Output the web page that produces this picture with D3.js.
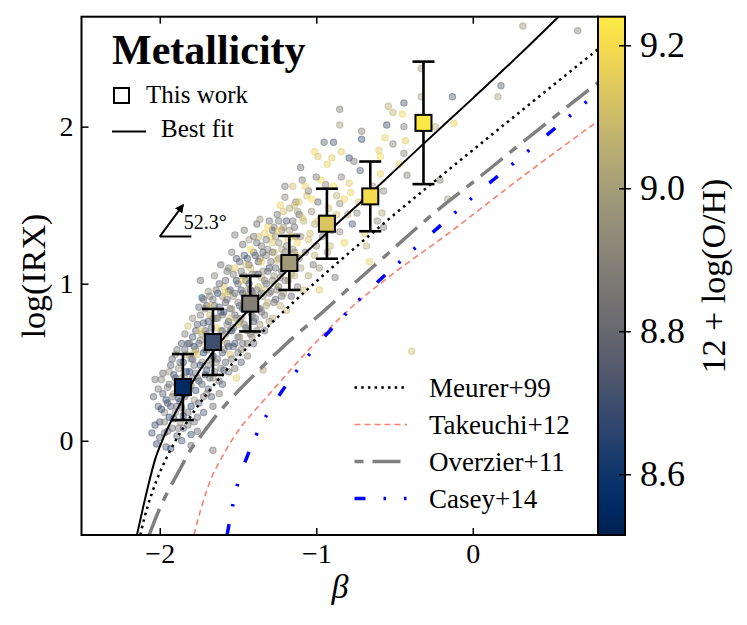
<!DOCTYPE html>
<html>
<head>
<meta charset="utf-8">
<script src="https://cdn.jsdelivr.net/npm/d3@7"></script>
<style>
body { margin: 0; background: #fff; }
svg { display: block; }
text { font-family: "Liberation Serif", "Times New Roman", serif; }
</style>
</head>
<body>
<svg id="chart" width="747" height="625"></svg>
<script>
// ---- data ----
// binned points ("This work")
var binBeta = [-1.852, -1.660, -1.422, -1.172, -0.932, -0.655, -0.315];
var binIRX  = [0.342, 0.629, 0.873, 1.132, 1.382, 1.556, 2.024];
var binErr  = [0.21, 0.21, 0.177, 0.172, 0.223, 0.222, 0.39];
var binOH   = [8.55, 8.70, 8.89, 8.99, 9.13, 9.20, 9.235];

// best fit (solid)
var fitBeta = [-2.146, -2.11, -2.07, -2.03, -1.98, -1.92, -1.85, -1.75, -1.66, -1.54, -1.42, -1.17, -0.93, -0.66, -0.31, 0.0, 0.3, 0.548];
var fitIRX  = [-0.6, -0.44, -0.27, -0.12, 0.01, 0.14, 0.27, 0.44, 0.565, 0.715, 0.845, 1.10, 1.325, 1.57, 1.895, 2.18, 2.46, 2.70];

// literature relations
var meurerBeta = [-2.124, -2.10, -2.075, -2.05, -2.0, -1.95, -1.9, -1.8, -1.7, -1.6, -1.4, -1.2, -1.0, -0.8, -0.6, -0.2, 0.2, 0.8];
var meurerIRX  = [-0.6, -0.498, -0.41, -0.333, -0.203, -0.095, -0.001, 0.159, 0.297, 0.419, 0.636, 0.831, 1.014, 1.188, 1.358, 1.688, 2.012, 2.493];
var takeuchiBeta = [-1.782, -1.73, -1.671, -1.6, -1.522, -1.342, -1.236, -1.066, -0.769, -0.573, -0.143, 0.288, 0.8];
var takeuchiIRX  = [-0.6, -0.41, -0.24, -0.10, 0.03, 0.25, 0.37, 0.56, 0.855, 1.015, 1.33, 1.66, 2.036];
var overzierBeta = [-2.068, -2.0, -1.936, -1.87, -1.811, -1.745, -1.639, -1.5, -1.406, -1.32, -1.15, -0.981, -0.726, -0.578, -0.259, 0.038, 0.336, 0.8];
var overzierIRX  = [-0.6, -0.43, -0.30, -0.18, -0.07, 0.02, 0.16, 0.315, 0.41, 0.495, 0.655, 0.80, 1.03, 1.16, 1.44, 1.675, 1.915, 2.28];
var caseyBeta = [-1.57, -1.533, -1.496, -1.441, -1.389, -1.31, -1.23, -1.151, -1.055, -0.951, -0.86, -0.747, -0.638, -0.418, -0.196, 0.045, 0.272, 0.499, 0.745, 0.8];
var caseyIRX  = [-0.6, -0.408, -0.25, -0.10, 0.024, 0.176, 0.30, 0.41, 0.537, 0.66, 0.756, 0.877, 0.983, 1.183, 1.38, 1.59, 1.777, 1.968, 2.174, 2.22];

// individual galaxies: [beta, log(IRX), 12+log(O/H)]
var galaxies = [
  [-2.05,0.05,8.72],[-2.03,0.39,8.82],[-2.02,-0.02,8.66],[-2.01,0.22,8.78],[-2.00,0.12,8.70],[-1.99,0.39,8.88],
  [-1.98,0.30,8.74],[-1.97,0.05,8.80],[-1.97,0.18,8.92],[-1.96,0.26,8.68],[-1.96,-0.04,8.76],
  [-1.95,0.34,8.84],[-1.94,0.15,8.64],[-1.94,0.44,8.95],[-1.93,0.22,8.72],[-1.92,0.08,8.80],[-1.92,0.52,8.78],
  [-1.91,0.30,9.02],[-1.90,0.40,8.70],[-1.90,0.18,8.86],[-1.89,0.03,8.74],[-1.89,0.58,8.82],[-1.88,0.27,8.66],
  [-1.88,0.46,8.90],[-1.87,0.12,8.95],[-1.87,0.35,8.76],[-1.86,0.62,8.72],[-1.86,0.21,8.84],[-1.86,0.00,8.72],
  [-1.85,0.50,8.68],[-1.85,0.08,8.78],[-1.84,0.40,8.92],[-1.84,0.68,8.86],[-1.83,0.30,8.72],[-1.83,0.55,9.05],
  [-1.82,0.73,9.10],[-1.82,0.18,8.80],[-1.81,0.44,8.64],[-1.81,0.62,8.82],[-1.80,0.35,8.88],[-1.80,0.04,8.70],
  [-1.79,0.52,8.76],[-1.79,0.78,8.90],[-1.78,0.26,8.95],[-1.78,0.60,8.66],[-1.77,0.43,8.84],[-1.77,0.70,8.74],
  [-1.76,0.15,8.80],[-1.76,0.55,9.12],[-1.80,-0.03,8.80],[-1.93,-0.05,8.66],
  [-1.75,0.85,8.78],[-1.75,0.38,8.70],[-1.74,0.64,8.86],[-1.74,1.02,8.80],[-1.73,0.50,8.92],[-1.73,0.91,8.66],
  [-1.72,0.28,8.84],[-1.72,0.75,8.72],[-1.71,0.58,9.00],[-1.71,0.84,8.90],[-1.70,0.45,8.68],[-1.70,0.68,8.80],
  [-1.69,0.95,8.94],[-1.69,0.33,8.76],[-1.68,0.62,8.62],[-1.68,0.80,9.08],[-1.67,0.52,8.86],[-1.67,0.72,8.74],
  [-1.66,0.90,8.82],[-1.66,0.40,8.96],[-1.66,-0.06,8.82],
  [-1.65,0.66,8.70],[-1.65,1.05,8.88],[-1.64,0.78,8.78],[-1.64,0.50,8.92],[-1.63,0.94,8.66],[-1.63,0.60,9.05],
  [-1.62,0.38,8.84],[-1.62,0.85,8.74],[-1.61,0.70,8.98],[-1.61,1.12,8.80],[-1.60,0.56,8.72],[-1.60,0.80,8.86],
  [-1.59,0.98,9.12],[-1.59,0.45,8.68],[-1.58,0.68,8.90],[-1.58,0.88,8.76],[-1.57,1.08,8.84],[-1.57,0.62,8.80],
  [-1.56,0.76,8.64],[-1.56,0.95,8.94],[-1.62,0.30,8.86],
  [-1.55,0.55,9.10],[-1.55,0.84,8.82],[-1.54,1.20,8.86],[-1.54,0.70,8.70],[-1.53,0.92,8.96],[-1.53,0.60,8.78],
  [-1.52,1.31,8.84],[-1.52,0.80,8.74],[-1.51,0.40,9.15],[-1.51,1.02,8.68],[-1.50,0.88,8.90],[-1.50,0.66,8.82],
  [-1.49,1.14,8.76],[-1.49,0.76,9.02],[-1.48,0.96,8.72],[-1.48,0.58,8.88],[-1.47,1.25,8.80],[-1.47,0.84,8.64],
  [-1.46,1.34,8.86],[-1.46,1.05,8.94],
  [-1.45,0.72,8.78],[-1.45,0.92,9.06],[-1.44,1.16,8.74],[-1.44,0.62,8.86],[-1.43,1.00,8.70],[-1.43,1.28,8.98],
  [-1.42,0.82,8.82],[-1.42,1.10,9.12],[-1.41,0.66,8.90],[-1.41,0.95,8.76],[-1.40,1.20,8.84],[-1.40,0.76,8.68],
  [-1.39,1.06,8.92],[-1.39,0.88,9.04],[-1.38,1.38,8.80],[-1.38,0.70,8.86],[-1.37,1.14,8.72],[-1.37,0.98,9.08],
  [-1.36,1.41,8.96],[-1.36,0.84,8.78],
  [-1.35,1.24,8.86],[-1.35,0.94,8.70],[-1.34,0.45,9.00],[-1.34,1.08,8.94],[-1.33,0.80,8.84],[-1.33,1.32,9.14],
  [-1.32,1.00,8.76],[-1.32,1.18,8.90],[-1.31,0.88,9.06],[-1.30,1.40,8.82],[-1.30,1.10,8.72],[-1.29,1.30,9.18],
  [-1.29,0.95,8.88],[-1.28,1.20,8.80],[-1.28,0.78,9.02],[-1.27,1.05,8.96],[-1.27,1.36,8.86],[-1.26,0.90,8.74],
  [-1.25,1.15,9.10],[-1.25,1.44,8.84],[-1.24,0.98,8.80],[-1.24,1.26,8.92],[-1.23,0.86,9.04],[-1.23,1.50,9.16],
  [-1.22,1.08,8.76],[-1.22,1.34,8.88],[-1.21,0.94,9.00],[-1.20,1.20,8.82],[-1.20,1.55,8.90],[-1.19,0.83,9.08],
  [-1.19,1.40,8.72],[-1.18,1.02,8.94],[-1.18,1.28,9.12],[-1.17,1.14,8.86],[-1.17,1.48,9.02],[-1.16,0.92,8.78],
  [-1.15,1.22,8.96],[-1.15,1.62,9.10],[-1.14,1.05,9.04],[-1.14,1.36,8.82],[-1.13,1.52,8.90],[-1.12,0.98,8.86],
  [-1.12,1.18,9.16],[-1.11,1.44,8.76],[-1.11,1.52,9.14],[-1.10,1.10,9.00],[-1.10,1.30,8.92],[-1.09,1.66,8.86],
  [-1.08,0.96,9.08],[-1.08,1.40,9.06],[-1.07,1.20,8.80],[-1.06,1.56,9.12],
  [-1.05,1.05,9.02],[-1.05,1.59,8.88],[-1.04,1.32,9.10],[-1.03,1.46,8.94],[-1.02,1.12,8.84],[-1.01,1.84,9.16],
  [-1.01,1.38,9.04],[-1.00,1.24,8.90],[-0.99,1.81,9.12],[-0.99,1.52,8.78],[-0.98,0.96,9.14],[-0.98,1.10,8.96],
  [-0.97,1.42,9.06],[-0.96,1.30,8.86],
  [-0.94,1.63,8.88],[-0.93,1.20,9.00],[-0.92,1.48,9.10],[-0.90,1.80,9.14],[-0.90,1.34,8.84],[-0.89,1.90,8.72],
  [-0.88,1.04,8.86],[-0.87,1.56,9.06],[-0.85,2.11,8.86],[-0.85,2.01,8.98],[-0.85,1.51,8.90],[-0.84,1.68,8.88],
  [-0.85,1.33,8.92],[-0.82,1.26,9.16],[-0.80,1.44,9.02],
  [-0.79,1.80,8.70],[-0.79,1.64,9.14],[-0.78,1.58,9.16],[-0.77,1.38,8.72],[-0.76,1.78,8.86],[-0.74,1.45,8.90],
  [-0.73,1.52,9.12],[-0.72,1.72,8.76],[-0.71,1.97,8.88],[-0.71,1.92,8.70],[-0.69,1.32,9.14],[-0.68,1.24,9.04],
  [-0.66,1.14,9.16],[-0.64,1.62,8.96],[-0.61,1.40,8.92],[-0.60,1.85,9.14],[-0.59,1.81,9.18],
  [-0.59,1.70,9.16],[-0.58,1.45,9.02],[-0.57,1.59,8.90],[-0.57,1.36,8.86],[-0.56,1.93,9.16],[-0.55,2.01,8.70],
  [-0.54,2.13,9.04],[-0.51,2.09,9.06],[-0.51,1.89,8.88],[-0.47,1.76,9.16],[-0.44,2.15,8.72],[-0.45,2.08,9.18],
  [-0.44,2.00,8.86],[-0.44,1.83,8.90],[-0.43,1.91,9.14],[-0.42,1.69,8.88],[-0.39,0.57,9.10],[-0.33,2.37,8.98],
  [-0.33,2.19,9.00],
  [-0.24,2.00,9.06],[-0.21,1.66,8.86],[-0.16,1.54,9.00],[-0.13,2.19,8.74],[-0.12,2.02,9.16],[0.16,2.19,9.02],
  [0.18,2.26,8.76],[0.32,2.64,8.96],[0.67,2.61,8.88],
  // denser core of the cloud
  [-2.04,0.28,8.76],[-2.03,0.10,8.70],[-2.01,0.33,8.84],[-2.00,0.02,8.74],[-1.99,0.20,8.66],[-1.98,0.43,8.80],
  [-1.97,0.12,8.88],[-1.95,0.06,8.78],[-1.95,0.24,8.72],[-1.94,0.36,8.82],[-1.93,0.48,8.76],[-1.92,0.28,8.86],
  [-1.91,0.14,8.70],[-1.91,0.42,8.74],[-1.90,0.55,8.90],[-1.89,0.22,8.80],[-1.89,0.36,8.64],[-1.88,0.08,8.84],
  [-1.87,0.50,8.78],[-1.87,0.25,8.72],[-1.86,0.40,8.96],[-1.85,0.16,8.68],[-1.84,0.58,8.80],[-1.84,0.28,8.76],
  [-1.83,0.44,8.70],[-1.82,0.10,8.82],[-1.82,0.62,8.74],[-1.81,0.34,8.90],[-1.80,0.52,8.84],[-1.80,0.22,8.66],
  [-1.79,0.40,8.78],[-1.79,0.66,8.72],[-1.78,0.12,8.84],[-1.78,0.48,8.80],[-1.77,0.32,8.68],[-1.77,0.58,8.92],
  [-1.76,0.74,8.76],[-1.76,0.40,8.86],[-1.75,0.24,8.74],[-1.75,0.62,8.80],[-1.74,0.48,8.70],[-1.74,0.80,8.84],
  [-1.73,0.36,8.78],[-1.73,0.68,8.96],[-1.72,0.56,8.66],[-1.72,0.90,8.82],[-1.71,0.42,8.74],[-1.71,0.70,8.80],
  [-1.70,0.30,8.88],[-1.70,0.86,8.72],[-1.70,0.58,8.76],[-1.69,0.48,8.84],[-1.69,0.76,8.70],[-1.68,0.40,8.78],
  [-1.68,0.92,8.86],[-1.67,0.64,8.80],[-1.67,0.28,8.74],[-1.66,0.78,8.92],[-1.66,0.54,8.68],[-1.65,0.44,8.82],
  [-1.65,0.86,8.76],[-1.64,0.66,8.72],[-1.64,0.96,8.84],[-1.63,0.52,8.80],[-1.63,0.78,8.90],[-1.62,0.64,8.70],
  [-1.62,1.00,8.78],[-1.61,0.46,8.86],[-1.61,0.82,8.74],[-1.60,0.70,8.82],[-1.60,0.92,8.94],[-1.60,0.36,8.76],
  [-1.66,0.22,8.80],[-1.72,0.18,8.72],[-1.76,0.06,8.78],
  [-1.59,0.58,8.84],[-1.59,0.82,8.70],[-1.58,1.02,8.80],[-1.58,0.50,8.76],[-1.57,0.74,8.92],[-1.57,0.90,8.82],
  [-1.56,0.60,8.74],[-1.56,1.10,8.86],[-1.55,0.70,8.80],[-1.55,0.96,8.72],[-1.54,0.52,8.84],[-1.54,0.84,8.96],
  [-1.53,0.72,8.78],[-1.53,1.06,8.86],[-1.52,0.62,8.70],[-1.52,0.94,8.82],[-1.51,0.78,8.90],[-1.51,1.16,8.76],
  [-1.50,0.56,8.84],[-1.50,1.00,8.80],[-1.49,0.86,8.74],[-1.49,0.66,8.94],[-1.48,1.08,8.82],[-1.48,0.78,8.88],
  [-1.47,0.94,8.76],[-1.47,0.62,8.80],[-1.46,0.74,8.86],[-1.46,1.18,8.72],[-1.45,0.84,8.92],[-1.45,1.02,8.78],
  [-1.44,0.70,8.84],[-1.44,0.96,9.00],[-1.43,0.86,8.76],[-1.43,1.12,8.82],[-1.42,0.68,8.86],[-1.42,0.96,8.74],
  [-1.41,1.06,8.90],[-1.41,0.80,8.80],[-1.40,0.92,8.96],[-1.40,1.30,8.84],[-1.40,0.62,8.78],[-1.52,0.46,8.82],
  [-1.48,0.50,8.74],[-1.44,0.54,8.88],[-1.56,0.44,8.80],
  [-1.39,0.78,8.82],[-1.39,1.18,8.74],[-1.38,0.96,8.90],[-1.38,1.26,8.80],[-1.37,0.84,8.86],[-1.37,1.06,8.78],
  [-1.36,0.74,8.94],[-1.36,1.16,8.82],[-1.35,1.04,9.04],[-1.35,0.82,8.84],[-1.34,1.20,8.76],[-1.34,0.92,8.92],
  [-1.33,1.02,8.88],[-1.33,0.70,8.80],[-1.32,1.28,8.84],[-1.32,0.86,9.00],[-1.31,1.08,8.80],[-1.31,1.22,8.90],
  [-1.30,0.94,8.86],[-1.30,0.76,8.96],[-1.29,1.14,8.82],[-1.28,1.02,8.90],[-1.28,1.34,8.76],[-1.27,0.88,8.84],
  [-1.27,1.20,9.06],[-1.26,1.10,8.80],[-1.26,1.30,8.92],[-1.25,0.96,8.86],[-1.24,1.16,8.98],[-1.24,1.40,8.82],
  [-1.23,1.04,8.88],[-1.22,1.22,9.02],[-1.22,0.92,8.84],[-1.21,1.12,8.80],[-1.21,1.36,8.94],[-1.20,1.02,8.90],
  [-1.19,1.24,8.86],[-1.18,1.14,8.80],[-1.17,1.34,8.96],[-1.16,1.06,9.04],[-1.15,1.40,8.84],[-1.14,1.20,8.92],
  [-1.13,1.30,8.88],[-1.12,1.46,9.00],[-1.11,1.16,8.84],
  // metal-rich galaxies spread through the middle of the cloud
  [-1.78,0.56,9.10],[-1.74,0.70,9.14],[-1.70,0.62,9.06],[-1.68,0.86,9.12],[-1.64,0.72,9.16],[-1.60,0.64,9.08],
  [-1.58,0.94,9.18],[-1.55,0.78,9.10],[-1.52,1.10,9.14],[-1.50,0.74,9.06],[-1.47,1.02,9.16],[-1.45,1.12,9.10],
  [-1.42,1.22,9.20],[-1.40,0.86,9.12],[-1.37,1.30,9.08],[-1.35,1.14,9.16],[-1.33,0.96,9.10],[-1.31,1.36,9.18],
  [-1.28,1.26,9.12],[-1.26,1.00,9.06],[-1.24,1.34,9.16],[-1.21,1.46,9.10],[-1.19,1.10,9.20],[-1.16,1.30,9.14],
  [-1.14,1.50,9.08],[-1.12,1.26,9.18],[-1.09,1.42,9.12],[-1.07,1.62,9.16],[-1.05,1.28,9.10],[-1.03,1.54,9.20],
  [-1.01,1.18,9.06],[-0.99,1.40,9.14],[-0.97,1.66,9.18],[-0.95,1.36,9.10],[-0.93,1.76,9.16],[-0.91,1.24,9.08],
  [-0.89,1.62,9.20],[-0.87,1.44,9.12],[-0.84,1.84,9.14],[-0.82,1.54,9.18],
  [-1.20,1.62,8.84],[-1.10,1.74,8.80],[-1.00,1.68,8.86],[-0.95,1.90,8.78]
];

var xTicks = [-2, -1, 0];
var yTicks = [0, 1, 2];
var ohTicks = [8.6, 8.8, 9.0, 9.2];
var ohDomain = [8.515, 9.24];

// slope annotation
var arrowFrom = [-2.0, 1.30];
var arrowTo = [-1.852, 1.50];
var arrowBase = [-1.798, 1.30];
var angleLabel = "52.3°";

// ---- drawing ----
var svg = d3.select("#chart");
var x = d3.scaleLinear().domain([-2.5, 0.8]).range([81.5, 598]);
var y = d3.scaleLinear().domain([-0.6, 2.7]).range([535, 16.7]);
var color = d3.scaleSequential(d3.interpolateCividis).domain(ohDomain);
var cy = d3.scaleLinear().domain(ohDomain).range([535, 16.7]);

var defs = svg.append("defs");
defs.append("clipPath").attr("id", "plotclip").append("rect")
	.attr("x", 81.5).attr("y", 16.7).attr("width", 516.5).attr("height", 518.3);
defs.append("marker").attr("id", "head")
	.attr("viewBox", "0 0 10 10").attr("refX", 8).attr("refY", 5)
	.attr("markerWidth", 4.5).attr("markerHeight", 4.5).attr("orient", "auto")
	.append("path").attr("d", "M0,0 L10,5 L0,10 z").attr("fill", "#000");

var plot = svg.append("g").attr("clip-path", "url(#plotclip)");

plot.append("g").selectAll("circle")
	.data(galaxies)
	.join("circle")
	.attr("cx", d => x(d[0]))
	.attr("cy", d => y(d[1]))
	.attr("r", 3.2)
	.attr("fill", d => color(d[2]))
	.attr("fill-opacity", 0.42)
	.attr("stroke", d => color(d[2]))
	.attr("stroke-opacity", 0.45)
	.attr("stroke-width", 1.1);

var models = [
	{label: "Meurer+99", beta: meurerBeta, irx: meurerIRX, stroke: "#000000", width: 2.5, dash: "2.5,4.2", legendOffset: 0},
	{label: "Takeuchi+12", beta: takeuchiBeta, irx: takeuchiIRX, stroke: "#fa8072", width: 1.6, dash: "6,4", legendOffset: 0},
	{label: "Overzier+11", beta: overzierBeta, irx: overzierIRX, stroke: "#808080", width: 3.5, dash: "28,9,9,9", legendOffset: 37},
	{label: "Casey+14", beta: caseyBeta, irx: caseyIRX, stroke: "#0000ff", width: 3.5, dash: "11,18,2.5,18,2.5,23", legendOffset: 0}
];

var line = d3.line()
	.x(d => x(d[0]))
	.y(d => y(d[1]))
	.curve(d3.curveMonotoneX);

models.forEach(function(m) {
	plot.append("path")
		.datum(d3.zip(m.beta, m.irx))
		.attr("d", line)
		.attr("fill", "none")
		.attr("stroke", m.stroke)
		.attr("stroke-width", m.width)
		.attr("stroke-dasharray", m.dash);
});

plot.append("path")
	.datum(d3.zip(fitBeta, fitIRX))
	.attr("d", line)
	.attr("fill", "none")
	.attr("stroke", "#000")
	.attr("stroke-width", 2);

// error bars + squares
var bins = d3.range(binBeta.length).map(i => ({b: binBeta[i], v: binIRX[i], e: binErr[i], oh: binOH[i]}));
var eb = svg.append("g").attr("stroke", "#000").attr("stroke-width", 2.6);
eb.selectAll("line.v").data(bins).join("line").attr("class", "v")
	.attr("x1", d => x(d.b)).attr("x2", d => x(d.b))
	.attr("y1", d => y(d.v - d.e)).attr("y2", d => y(d.v + d.e));
eb.selectAll("line.lo").data(bins).join("line").attr("class", "lo")
	.attr("x1", d => x(d.b) - 11).attr("x2", d => x(d.b) + 11)
	.attr("y1", d => y(d.v - d.e)).attr("y2", d => y(d.v - d.e));
eb.selectAll("line.hi").data(bins).join("line").attr("class", "hi")
	.attr("x1", d => x(d.b) - 11).attr("x2", d => x(d.b) + 11)
	.attr("y1", d => y(d.v + d.e)).attr("y2", d => y(d.v + d.e));
svg.append("g").selectAll("rect").data(bins).join("rect")
	.attr("x", d => x(d.b) - 8).attr("y", d => y(d.v) - 8)
	.attr("width", 16).attr("height", 16)
	.attr("fill", d => color(d.oh))
	.attr("stroke", "#000").attr("stroke-width", 2);

// frame and axes
svg.append("rect").attr("x", 81.5).attr("y", 16.7).attr("width", 516.5).attr("height", 518.3)
	.attr("fill", "none").attr("stroke", "#000").attr("stroke-width", 2);

function styleAxis(g, size) {
	g.select(".domain").remove();
	g.selectAll(".tick line").attr("stroke", "#000").attr("stroke-width", 1.5);
	g.selectAll(".tick text").attr("font-size", size).attr("fill", "#000");
}

var intFmt = d3.format("d");
svg.append("g").attr("transform", "translate(0,535)")
	.call(d3.axisBottom(x).tickValues(xTicks).tickFormat(intFmt).tickSizeInner(-7).tickSizeOuter(0).tickPadding(8))
	.call(g => styleAxis(g, 28));
svg.append("g").attr("transform", "translate(0,16.7)")
	.call(d3.axisTop(x).tickValues(xTicks).tickSizeInner(-7).tickSizeOuter(0).tickFormat(""))
	.call(g => styleAxis(g, 28));
svg.append("g").attr("transform", "translate(81.5,0)")
	.call(d3.axisLeft(y).tickValues(yTicks).tickFormat(intFmt).tickSizeInner(-7).tickSizeOuter(0).tickPadding(8))
	.call(g => styleAxis(g, 28));

svg.append("text").attr("x", 340).attr("y", 598).attr("text-anchor", "middle")
	.attr("font-size", 34).attr("font-style", "italic").text("β");
svg.append("text").attr("transform", "translate(45,276) rotate(-90)").attr("text-anchor", "middle")
	.attr("font-size", 34).text("log(IRX)");

// colorbar
var grad = defs.append("linearGradient").attr("id", "cbgrad")
	.attr("x1", 0).attr("y1", 1).attr("x2", 0).attr("y2", 0);
d3.range(0, 1.0001, 0.05).forEach(function(t) {
	grad.append("stop").attr("offset", t)
		.attr("stop-color", color(ohDomain[0] + t * (ohDomain[1] - ohDomain[0])));
});
svg.append("rect").attr("x", 598).attr("y", 16.7).attr("width", 27).attr("height", 518.3)
	.attr("fill", "url(#cbgrad)").attr("stroke", "#000").attr("stroke-width", 2);
svg.append("g").attr("transform", "translate(619,0)")
	.call(d3.axisRight(cy).tickValues(ohTicks).tickFormat(d3.format(".1f")).tickSizeInner(12).tickSizeOuter(0).tickPadding(9))
	.call(g => styleAxis(g, 36));
svg.append("text").attr("transform", "translate(725,276) rotate(-90)").attr("text-anchor", "middle")
	.attr("font-size", 34).text("12 + log(O/H)");

// upper-left legend
svg.append("text").attr("x", 112).attr("y", 64).attr("font-size", 42).attr("font-weight", "bold").text("Metallicity");
svg.append("rect").attr("x", 114).attr("y", 88).attr("width", 15).attr("height", 15)
	.attr("fill", "none").attr("stroke", "#000").attr("stroke-width", 2);
svg.append("text").attr("x", 146).attr("y", 103).attr("font-size", 25).text("This work");
svg.append("line").attr("x1", 112).attr("x2", 146).attr("y1", 131.5).attr("y2", 131.5)
	.attr("stroke", "#000").attr("stroke-width", 2);
svg.append("text").attr("x", 161).attr("y", 137).attr("font-size", 25).text("Best fit");

// lower-right legend
var leg = svg.append("g");
models.forEach(function(m, i) {
	var ly = 387.5 + i * 37;
	leg.append("line").attr("x1", 354.5).attr("x2", 407).attr("y1", ly).attr("y2", ly)
		.attr("stroke", m.stroke).attr("stroke-width", m.width)
		.attr("stroke-dasharray", m.dash).attr("stroke-dashoffset", m.legendOffset);
	leg.append("text").attr("x", 429).attr("y", ly).attr("dy", "0.35em")
		.attr("font-size", 27).text(m.label);
});

// slope annotation
svg.append("line")
	.attr("x1", x(arrowFrom[0])).attr("y1", y(arrowFrom[1]))
	.attr("x2", x(arrowTo[0])).attr("y2", y(arrowTo[1]))
	.attr("stroke", "#000").attr("stroke-width", 2).attr("marker-end", "url(#head)");
svg.append("line")
	.attr("x1", x(arrowFrom[0])).attr("y1", y(arrowFrom[1]))
	.attr("x2", x(arrowBase[0])).attr("y2", y(arrowBase[1]))
	.attr("stroke", "#000").attr("stroke-width", 2);
svg.append("text").attr("x", x(-1.847)).attr("y", y(1.348)).attr("font-size", 20).text(angleLabel);
</script>
</body>
</html>
